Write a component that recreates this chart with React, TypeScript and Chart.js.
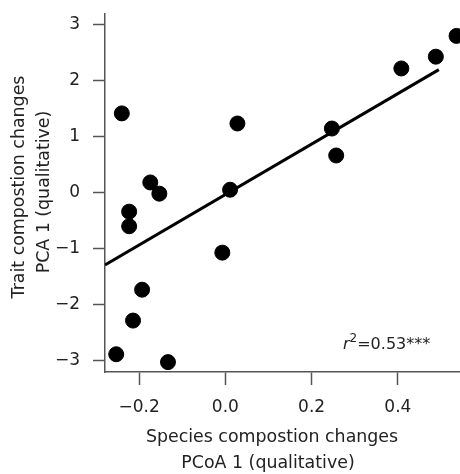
import React, { useEffect, useRef } from "react";
import { Chart, registerables } from "chart.js";

Chart.register(...registerables);

const speciesChange = [-0.240, -0.174, -0.153, -0.223, -0.223, 0.011, 0.028, 0.247, 0.257, 0.408, 0.488, 0.536, -0.007, -0.193, -0.214, -0.253, -0.133];
const traitChange = [1.41, 0.18, -0.02, -0.34, -0.60, 0.05, 1.23, 1.14, 0.66, 2.21, 2.42, 2.79, -1.07, -1.73, -2.28, -2.88, -3.02];
const fitX = [-0.279, 0.495];
const fitY = [-1.29, 2.19];
const xTicks = [-0.2, 0.0, 0.2, 0.4];
const yTicks = [-3, -2, -1, 0, 1, 2, 3];
const xTitle = ["Species compostion changes", "PCoA 1 (qualitative)"];
const yTitle = ["Trait compostion changes", "PCA 1 (qualitative)"];
const r2Text = "=0.53***";

const FONT = "'DejaVu Sans', Verdana, sans-serif";
const AXIS = "#555555";
const TEXT = "#222222";

const fmt = (v: number) => (v < 0 ? "\u2212" : "") + Math.abs(v).toFixed(1);

const textPlugin = {
  id: "textPlugin",
  afterDraw(chart: any) {
    const ctx = chart.ctx as CanvasRenderingContext2D;
    ctx.save();
    ctx.fillStyle = TEXT;
    ctx.textAlign = "center";
    ctx.textBaseline = "middle";
    ctx.font = `17.4px ${FONT}`;
    ctx.fillText(xTitle[0], 272, 437);
    ctx.fillText(xTitle[1], 268, 463);
    ctx.save();
    ctx.translate(19, 187);
    ctx.rotate(-Math.PI / 2);
    ctx.fillText(yTitle[0], 0, 0);
    ctx.restore();
    ctx.save();
    ctx.translate(44, 192);
    ctx.rotate(-Math.PI / 2);
    ctx.fillText(yTitle[1], 0, 0);
    ctx.restore();
    // r^2 annotation
    ctx.textAlign = "left";
    ctx.textBaseline = "alphabetic";
    let x = 343;
    const base = 349;
    ctx.font = `italic 16px ${FONT}`;
    ctx.fillText("r", x, base);
    x += ctx.measureText("r").width;
    ctx.font = `12px ${FONT}`;
    ctx.fillText("2", x, base - 7);
    x += ctx.measureText("2").width;
    ctx.font = `16px ${FONT}`;
    ctx.fillText(r2Text, x, base);
    ctx.restore();
  },
};

export default function App() {
  const ref = useRef<HTMLCanvasElement>(null);
  useEffect(() => {
    document.body.style.margin = "0";
    const ctx = ref.current!;
    const chart = new Chart(ctx, {
      type: "scatter",
      data: {
        datasets: [
          {
            type: "line",
            data: fitX.map((x, i) => ({ x, y: fitY[i] })),
            borderColor: "#000",
            borderWidth: 3,
            pointRadius: 0,
            fill: false,
          } as any,
          {
            data: speciesChange.map((x, i) => ({ x, y: traitChange[i] })),
            backgroundColor: "#000",
            borderColor: "#000",
            pointRadius: 7.5,
            pointHoverRadius: 7.5,
            clip: false,
          } as any,
        ],
      },
      options: {
        responsive: false,
        animation: false,
        events: [],
        layout: { autoPadding: false, padding: { top: 14, right: 0, left: 0, bottom: 0 } },
        plugins: { legend: { display: false }, tooltip: { enabled: false } },
        scales: {
          x: {
            type: "linear",
            min: -0.279,
            max: 0.544,
            afterBuildTicks: (s: any) => { s.ticks = xTicks.map((v) => ({ value: v })); },
            afterFit: (s: any) => { s.height = 102; s.paddingLeft = 0; s.paddingRight = 0; },
            grid: { drawOnChartArea: false, drawTicks: true, tickLength: 13, tickColor: AXIS, tickWidth: 1.5 },
            border: { display: true, color: AXIS, width: 1.5 },
            ticks: { color: TEXT, font: { family: FONT, size: 17 }, padding: 12, maxRotation: 0, autoSkip: false, callback: (v: any) => fmt(Number(v)) },
          },
          y: {
            type: "linear",
            min: -3.196,
            max: 3.18,
            afterBuildTicks: (s: any) => { s.ticks = yTicks.map((v) => ({ value: v })); },
            afterFit: (s: any) => { s.width = 105; s.paddingTop = 0; s.paddingBottom = 0; },
            grid: { drawOnChartArea: false, drawTicks: true, tickLength: 12, tickColor: AXIS, tickWidth: 1.5 },
            border: { display: true, color: AXIS, width: 1.5 },
            ticks: { color: TEXT, font: { family: FONT, size: 17 }, padding: 13, autoSkip: false, callback: (v: any) => (Number(v) < 0 ? "\u2212" + Math.abs(Number(v)) : String(v)) },
          },
        },
      },
      plugins: [textPlugin],
    });
    return () => chart.destroy();
  }, []);
  return (
    <div style={{ width: 460, height: 474, background: "#fff" }}>
      <canvas ref={ref} width={460} height={474} />
    </div>
  );
}
